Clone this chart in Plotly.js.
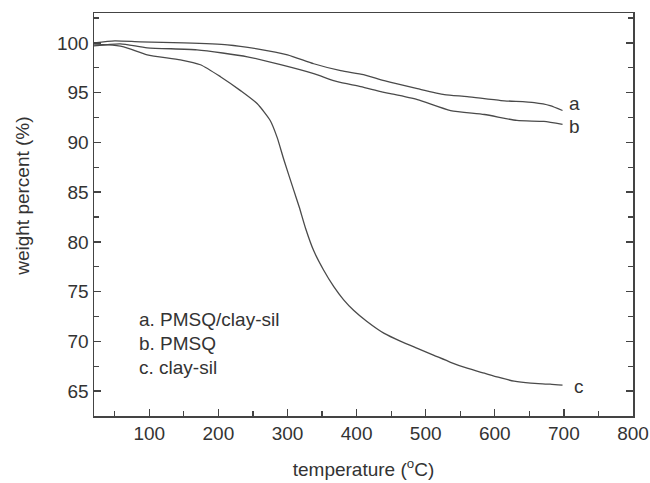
<!DOCTYPE html>
<html>
<head>
<meta charset="utf-8">
<script src="https://cdn.plot.ly/plotly-3.0.1.min.js"></script>
<style>html,body{margin:0;padding:0;background:#fff}#chart{width:650px;height:483px}</style>
</head>
<body>
<div id="chart"></div>
<script>
// Temperature (°C) and weight percent (%)
const tempA = [20, 50, 87, 150, 213, 256, 300, 338, 377, 410, 440, 488, 527, 560, 609, 657, 680, 698];
const weightA = [100.0, 100.2, 100.1, 100.0, 99.8, 99.4, 98.8, 97.9, 97.2, 96.8, 96.2, 95.4, 94.8, 94.6, 94.2, 94.0, 93.7, 93.2];

const tempB = [20, 58, 97, 169, 242, 290, 338, 372, 406, 435, 449, 488, 536, 585, 632, 671, 698];
const weightB = [99.7, 99.9, 99.5, 99.3, 98.6, 97.8, 96.9, 96.1, 95.6, 95.1, 94.9, 94.3, 93.2, 92.8, 92.2, 92.1, 91.8];

const tempC = [20, 40, 63, 97, 145, 174, 203, 232, 256, 275, 285, 295, 309, 317, 326, 338, 352, 367, 381, 396, 415, 440, 464, 488, 512, 536, 560, 585, 605, 628, 652, 680, 698];
const weightC = [99.8, 99.8, 99.6, 98.8, 98.3, 97.8, 96.6, 95.2, 93.9, 92.2, 90.5, 88.2, 85.2, 83.5, 81.4, 79.1, 77.2, 75.5, 74.2, 73.1, 72.0, 70.8, 70.0, 69.3, 68.6, 67.9, 67.3, 66.8, 66.4, 66.0, 65.8, 65.7, 65.6];

const curveLabels = ["a", "b", "c"];
const legendLines = ["a. PMSQ/clay-sil", "b. PMSQ", "c. clay-sil"];
const legendY = [72.2, 69.8, 67.4];
const xTicks = [100, 200, 300, 400, 500, 600, 700, 800];
const yTicks = [65, 70, 75, 80, 85, 90, 95, 100];

const lineStyle = {color: '#4a4a4a', width: 1.3, shape: 'spline', smoothing: 0.6};
const font = {family: 'Liberation Sans, Arial, sans-serif', size: 19, color: '#333'};

const series = [[tempA, weightA], [tempB, weightB], [tempC, weightC]];
const traces = series.map(([x, y], i) => ({
  x: x, y: y, type: 'scatter', mode: 'lines', line: lineStyle,
  name: curveLabels[i], showlegend: false, hoverinfo: 'skip'
}));

const labelShift = [[4, 7], [4, -2], [9, -1]];
const annotations = series.map(([x, y], i) => ({
  x: x[x.length - 1], y: y[y.length - 1], xref: 'x', yref: 'y',
  text: curveLabels[i], showarrow: false, xanchor: 'left', yanchor: 'middle',
  xshift: labelShift[i][0], yshift: labelShift[i][1], font: font
}));
legendLines.forEach((t, i) => annotations.push({
  x: 82, y: legendY[i], xref: 'x', yref: 'y', text: t,
  showarrow: false, xanchor: 'left', yanchor: 'middle', font: font
}));
annotations.push({
  x: -0.132, y: 0.546, xref: 'paper', yref: 'paper', text: 'weight percent (%)',
  textangle: -90, showarrow: false, xanchor: 'center', yanchor: 'middle', font: font
});

const layout = {
  width: 650, height: 483,
  margin: {l: 94, r: 17, t: 13, b: 67},
  paper_bgcolor: '#fff', plot_bgcolor: '#fff',
  font: font,
  showlegend: false,
  xaxis: {
    range: [20, 800], tickvals: xTicks, ticks: 'inside', ticklen: 7, tickwidth: 1.3,
    tickcolor: '#444', showline: true, linecolor: '#444', linewidth: 1.5, mirror: true,
    showgrid: false, zeroline: false, tickfont: font,
    minor: {dtick: 50, ticks: 'inside', ticklen: 5, tickwidth: 1.2, tickcolor: '#444', showgrid: false},
    title: {text: 'temperature (<sup>o</sup>C)', font: font, standoff: 19}
  },
  yaxis: {
    range: [62.5, 103], tickvals: yTicks, ticks: 'inside', ticklen: 7, tickwidth: 1.3,
    tickcolor: '#444', showline: true, linecolor: '#444', linewidth: 1.5, mirror: 'ticks',
    showgrid: false, zeroline: false, tickfont: font,
    minor: {dtick: 2.5, ticks: 'inside', ticklen: 5, tickwidth: 1.2, tickcolor: '#444', showgrid: false}
  },
  annotations: annotations
};

Plotly.newPlot('chart', traces, layout, {staticPlot: true, displayModeBar: false});
</script>
</body>
</html>
